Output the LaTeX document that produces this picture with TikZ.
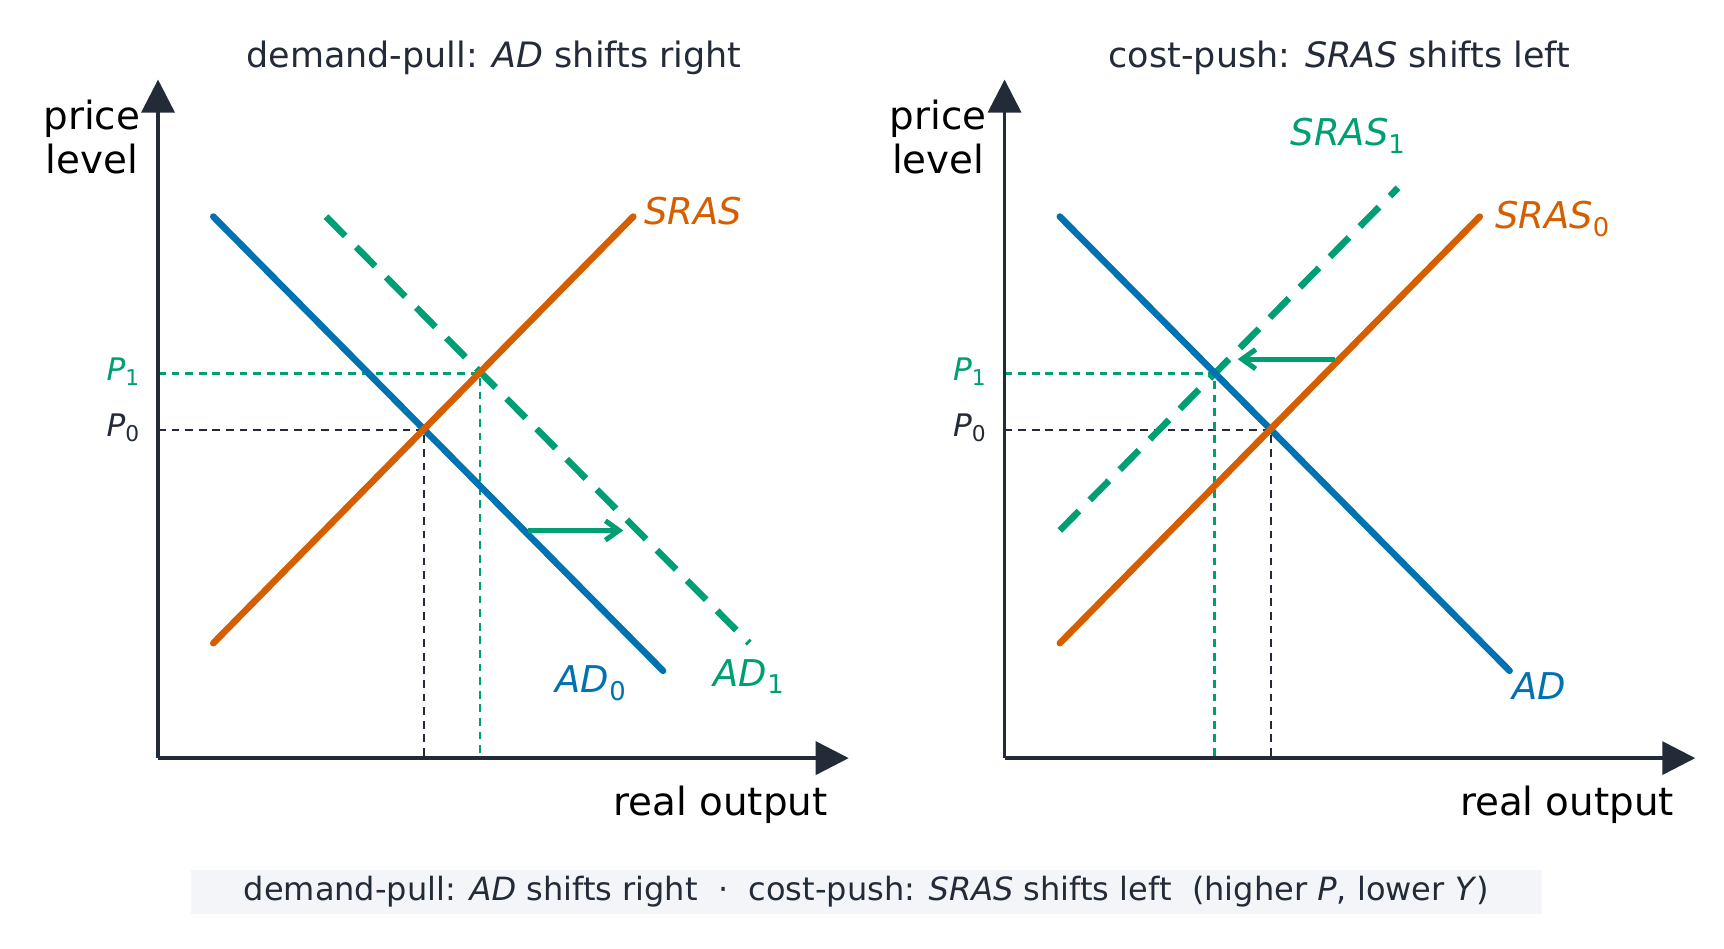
\documentclass[tikz,border=0pt]{standalone}
\usepackage{fontspec}
\setmainfont{DejaVu Sans}
\usetikzlibrary{arrows.meta}
\definecolor{axisc}{HTML}{232B38}
\definecolor{adblue}{HTML}{0072B2}
\definecolor{srasor}{HTML}{D55E00}
\definecolor{shiftgr}{HTML}{009E73}
\definecolor{capbg}{HTML}{F3F5F8}
\tikzset{
  axis/.style={line width=1.8pt, axisc, -{Triangle[length=17pt,width=17pt]}},
  curve/.style={line width=3.4pt, line cap=round},
  shifted/.style={line width=3.4pt, shiftgr, dash pattern=on 14pt off 8pt},
  guide/.style={line width=1.1pt, dash pattern=on 4pt off 3pt},
  move/.style={line width=2.6pt, shiftgr, -{Straight Barb[length=7pt,width=10pt]}},
  lbl/.style={font=\fontsize{19}{22}\selectfont\itshape},
  plbl/.style={font=\fontsize{16}{18}\selectfont\itshape, anchor=east},
  axlbl/.style={font=\fontsize{20}{23}\selectfont, align=center},
  ttl/.style={font=\fontsize{18}{21}\selectfont, text=axisc}
}
\begin{document}
\begin{tikzpicture}[x=0.02cm, y=-0.02cm]
            \useasboundingbox (0,0) rectangle (1560,858);
            % left panel: demand-pull
            \coordinate (o1) at (143,686);
            \coordinate (y1) at (143,72);
            \coordinate (x1) at (768,686);
            \coordinate (ad0a) at (193,196);
            \coordinate (ad0b) at (600,607);
            \coordinate (sa) at (193,582);
            \coordinate (sb) at (573,196);
            \coordinate (ad1a) at (295,196);
            \coordinate (ad1b) at (678,582);
            \coordinate (e0) at (384,389);
            \coordinate (e1) at (434,338);
            \coordinate (p0l) at (143,389);
            \coordinate (p1l) at (143,338);
            \coordinate (q0l) at (384,686);
            \coordinate (q1l) at (434,686);
            \coordinate (mva) at (478,480);
            \coordinate (mvb) at (564,480);

            \draw[guide, axisc] (p0l) -- (e0) -- (q0l);
            \draw[guide, shiftgr] (p1l) -- (e1) -- (q1l);
            \draw[shifted] (ad1a) -- (ad1b);
            \draw[curve, adblue] (ad0a) -- (ad0b);
            \draw[curve, srasor] (sa) -- (sb);
            \draw[move] (mva) -- (mvb);
            \draw[axis] (o1) -- (y1);
            \draw[axis] (o1) -- (x1);

            \node[ttl] (t1) at (447,52) {demand-pull: \textit{AD} shifts right};
            \node[axlbl] (yl1) at (83,124) {price\\level};
            \node[axlbl] (xl1) at (652,728) {real output};
            \node[plbl, text=shiftgr] (pl1) at (133,336) {P\textsubscript{\upshape 1}};
            \node[plbl, text=axisc] (pl0) at (133,387) {P\textsubscript{\upshape 0}};
            \node[lbl, srasor] (sl) at (627,191) {SRAS};
            \node[lbl, adblue] (adl0) at (535,618) {AD\textsubscript{\upshape 0}};
            \node[lbl, shiftgr] (adl1) at (678,612) {AD\textsubscript{\upshape 1}};

            % right panel: cost-push
            \coordinate (o2) at (909,686);
            \coordinate (y2) at (909,72);
            \coordinate (x2) at (1534,686);
            \coordinate (ada) at (959,196);
            \coordinate (adb) at (1366,607);
            \coordinate (s0a) at (959,582);
            \coordinate (s0b) at (1339,196);
            \coordinate (s1a) at (959,480);
            \coordinate (s1b) at (1265,170);
            \coordinate (f0) at (1150,389);
            \coordinate (f1) at (1099,338);
            \coordinate (p0r) at (909,389);
            \coordinate (p1r) at (909,338);
            \coordinate (q0r) at (1150,686);
            \coordinate (q1r) at (1099,686);
            \coordinate (mvc) at (1208,325);
            \coordinate (mvd) at (1120,325);

            \draw[guide, axisc] (p0r) -- (f0) -- (q0r);
            \draw[guide, shiftgr] (p1r) -- (f1) -- (q1r);
            \draw[shifted] (s1a) -- (s1b);
            \draw[curve, adblue] (ada) -- (adb);
            \draw[curve, srasor] (s0a) -- (s0b);
            \draw[move] (mvc) -- (mvd);
            \draw[axis] (o2) -- (y2);
            \draw[axis] (o2) -- (x2);

            \node[ttl] (t2) at (1212,52) {cost-push: \textit{SRAS} shifts left};
            \node[axlbl] (yl2) at (849,124) {price\\level};
            \node[axlbl] (xl2) at (1418,728) {real output};
            \node[plbl, text=shiftgr] (pr1) at (899,336) {P\textsubscript{\upshape 1}};
            \node[plbl, text=axisc] (pr0) at (899,387) {P\textsubscript{\upshape 0}};
            \node[lbl, shiftgr] (s1l) at (1220,123) {SRAS\textsubscript{\upshape 1}};
            \node[lbl, srasor] (s0l) at (1405,198) {SRAS\textsubscript{\upshape 0}};
            \node[lbl, adblue] (adl) at (1393,621) {AD};

            % caption
            \node[fill=capbg, minimum width=1222*0.02cm, minimum height=40*0.02cm,
                  font=\fontsize{16.5}{18}\selectfont, text=axisc] (cap) at (784,807)
              {demand-pull: \textit{AD} shifts right \ · \ cost-push: \textit{SRAS} shifts left \ (higher \textit{P}, lower \textit{Y})};
        \end{tikzpicture}
\end{document}
